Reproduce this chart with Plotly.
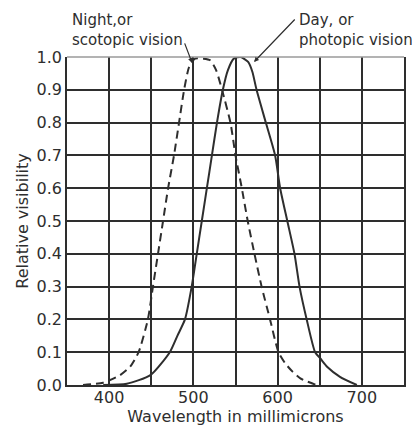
import plotly.graph_objects as go

# Scotopic (night) relative visibility
scotopic_nm = [369, 393, 413, 425, 435, 446, 452, 458, 464, 470, 477, 483, 489, 495, 502,
               512, 520, 527, 534, 544, 550, 557.5, 564.5, 572.5, 581, 591, 601, 609, 618, 627, 646]
scotopic_v = [0.0, 0.007, 0.03, 0.056, 0.1, 0.2, 0.3, 0.4, 0.5, 0.6, 0.7, 0.8, 0.9, 0.97, 0.995,
              0.995, 0.99, 0.96, 0.9, 0.8, 0.7, 0.6, 0.5, 0.4, 0.3, 0.2, 0.1, 0.066, 0.04, 0.02, 0.0]

# Photopic (day) relative visibility
photopic_nm = [393, 421, 449, 472, 481, 490, 498, 504, 510, 516, 522, 528, 535, 541, 548, 556,
               565, 570, 575, 586, 597, 603, 611.5, 620, 626, 634.5, 644.5, 651, 659, 674, 694]
photopic_v = [0.0, 0.004, 0.03, 0.1, 0.15, 0.2, 0.3, 0.4, 0.5, 0.6, 0.7, 0.8, 0.9, 0.96, 0.995, 1.0,
              0.985, 0.955, 0.9, 0.8, 0.7, 0.6, 0.5, 0.4, 0.3, 0.2, 0.1, 0.08, 0.055, 0.025, 0.0]

x_tickvals = [350, 400, 450, 500, 550, 600, 650, 700, 750]
x_ticktext = ["", "400", "", "500", "", "600", "", "700", ""]
y_tickvals = [0.0, 0.1, 0.2, 0.3, 0.4, 0.5, 0.6, 0.7, 0.8, 0.9, 1.0]
y_ticktext = ["0.0", "0.1", "0.2", "0.3", "0.4", "0.5", "0.6", "0.7", "0.8", "0.9", "1.0"]

ink = "#2e2e2e"
font = "DejaVu Sans"

fig = go.Figure()
fig.add_trace(go.Scatter(x=scotopic_nm, y=scotopic_v, mode="lines",
                         line=dict(color=ink, width=2, dash="8px,5px", shape="spline", smoothing=0.6),
                         showlegend=False, hoverinfo="skip"))
fig.add_trace(go.Scatter(x=photopic_nm, y=photopic_v, mode="lines",
                         line=dict(color=ink, width=2, shape="spline", smoothing=0.6),
                         showlegend=False, hoverinfo="skip"))

fig.update_layout(
    width=412, height=418,
    margin=dict(l=59, r=16, t=49, b=41),
    paper_bgcolor="white", plot_bgcolor="white",
    font=dict(family=font, color=ink, size=13),
    xaxis=dict(range=[350, 750], tickvals=x_tickvals, ticktext=x_ticktext, automargin=False,
               showgrid=True, gridcolor=ink, gridwidth=1.5,
               showline=True, linecolor=ink, linewidth=1.5, mirror=False,
               ticks="", zeroline=False, tickfont=dict(size=16), ticklabelstandoff=-3,
               title=dict(text="Wavelength in millimicrons", font=dict(size=16), standoff=0)),
    yaxis=dict(range=[0, 1], tickvals=y_tickvals, ticktext=y_ticktext, automargin=False,
               showgrid=True, gridcolor=ink, gridwidth=1.5,
               showline=True, linecolor=ink, linewidth=1.5, mirror=True,
               ticks="", zeroline=False, tickfont=dict(size=16),
               title=dict(text="Relative visibility", font=dict(size=16), standoff=4)),
    shapes=[dict(type="line", xref="paper", yref="paper", x0=0, x1=1, y0=1, y1=1,
                 line=dict(color="#9a9a9a", width=1.5))],
)

fig.add_annotation(x=0.009, y=1.145, xref="paper", yref="paper", xanchor="left", yanchor="top",
                   text="Night,or<br>scotopic vision", showarrow=False, align="left",
                   font=dict(size=15, family=font, color=ink))
fig.add_annotation(x=0.682, y=1.145, xref="paper", yref="paper", xanchor="left", yanchor="top",
                   text="Day, or<br>photopic vision", showarrow=False, align="left",
                   font=dict(size=15, family=font, color=ink))
fig.add_annotation(x=498.5, y=0.982, ax=489, ay=1.046, xref="x", yref="y", axref="x", ayref="y",
                   text="", showarrow=True, arrowhead=2, arrowsize=0.8, arrowwidth=1.2, arrowcolor=ink)
fig.add_annotation(x=572, y=0.985, ax=622, ay=1.119, xref="x", yref="y", axref="x", ayref="y",
                   text="", showarrow=True, arrowhead=2, arrowsize=0.8, arrowwidth=1.2, arrowcolor=ink)

fig.write_html("out.html")
